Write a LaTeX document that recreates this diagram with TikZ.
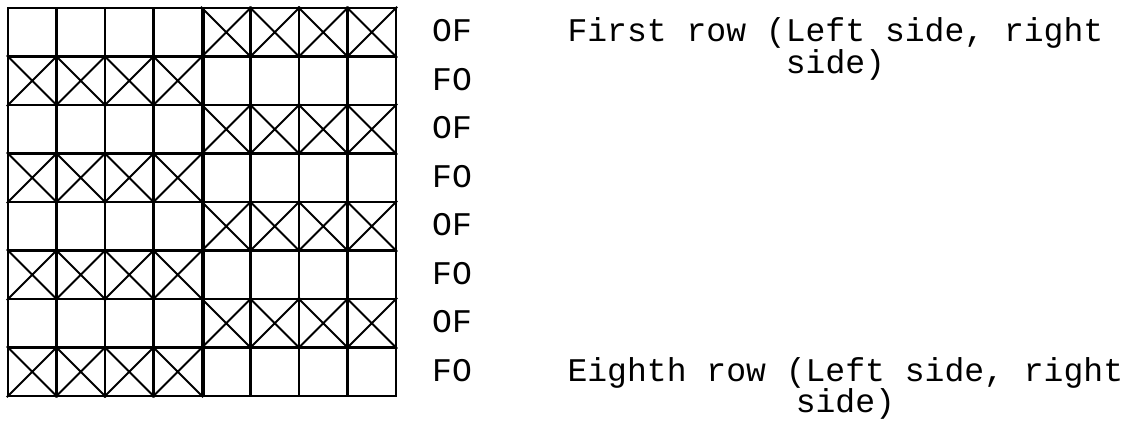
\documentclass[tikz,border=0pt]{standalone}
\usepackage{fontspec}
\setmonofont{Liberation Mono}
\usetikzlibrary{positioning}

\begin{document}
\begin{tikzpicture}[x=1cm, y=1cm,
  cell/.style={draw, line width=1.4pt, minimum size=1cm, inner sep=0pt},
  xline/.style={line width=1.1pt},
  lbl/.style={font=\fontsize{19.4}{18.5}\selectfont\ttfamily, inner sep=0pt}]
  \useasboundingbox (-0.165,-0.515) rectangle (22.99,8.165);

  % 8 x 8 cells, row 1 on top
  \foreach \r in {1,...,8} {
    \foreach \c in {1,...,8} {
      \node[cell] (c\r\c) at (\c-0.5, 8.5-\r) {};
    }
  }

  % Crosses: odd rows right half, even rows left half
  \foreach \r in {1,...,8} {
    \pgfmathtruncatemacro{\first}{mod(\r,2)==1 ? 5 : 1}
    \pgfmathtruncatemacro{\last}{\first+3}
    \foreach \c in {\first,...,\last} {
      \draw[xline] (c\r\c.north west) -- (c\r\c.south east)
                   (c\r\c.south west) -- (c\r\c.north east);
    }
  }

  % Heavier middle line
  \draw[line width=2.4pt] (c14.north east) -- (c84.south east);

  % Row codes
  \foreach \r/\t in {1/OF, 2/FO, 3/OF, 4/FO, 5/OF, 6/FO, 7/OF, 8/FO} {
    \node[lbl, anchor=base west] (k\r) at (8.74, 8.3-\r) {\t};
  }

  % Notes (base anchor sits on the last line)
  \node[lbl, anchor=base west, align=center, yshift=-18.5pt] (first)
    at (11.53, 7.3) {First row (Left side, right\\side)};
  \node[lbl, anchor=base west, align=center, yshift=-18.5pt] (eighth)
    at (11.53, 0.3) {Eighth row (Left side, right\\side)};
\end{tikzpicture}
\end{document}
